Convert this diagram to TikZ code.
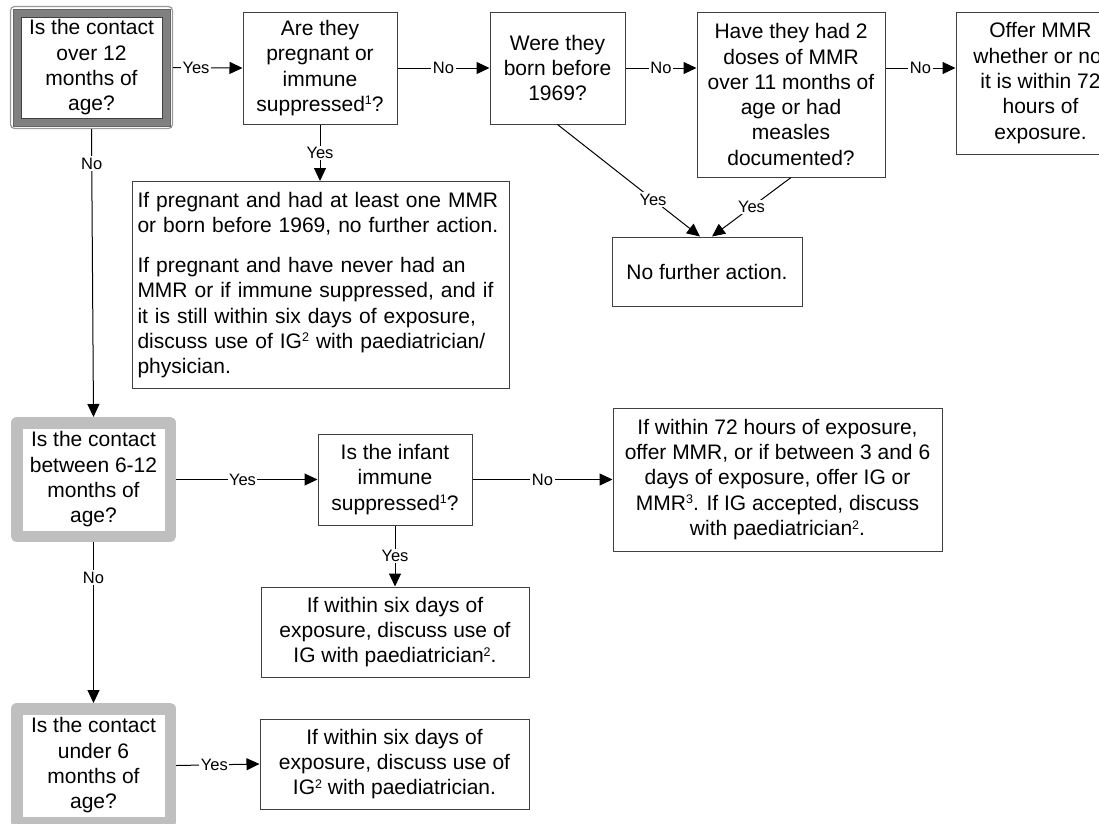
\documentclass[tikz,border=0pt]{standalone}
\usepackage{fontspec}
\setmainfont{Liberation Sans}
\usetikzlibrary{arrows.meta,calc}
\newcommand\mymainfont{\fontsize{21}{25.3}\selectfont}
\newcommand\mylblfont{\fontsize{16.5}{18}\selectfont}
\newcommand\mysups[1]{\raisebox{6.5pt}{\fontsize{12.5}{12.5}\selectfont #1}}
\begin{document}
\begin{tikzpicture}[x=1pt,y=-1pt,
  box/.style={draw=black!75, line width=1pt, fill=white, align=center, font=\mymainfont, inner sep=0pt},
  graybox/.style={draw=black!25, line width=11.5pt, line join=round, fill=white, align=center, font=\mymainfont, inner sep=0pt, minimum width=153.5pt, minimum height=113.5pt},
  lbl/.style={font=\mylblfont, fill=white, inner sep=1.5pt},
  arr/.style={line width=1pt, -{Triangle[length=13pt,width=12pt]}}]
\useasboundingbox (0,0) rectangle (1099,823);
\clip (0,0) rectangle (1099,823);
\fill[white] (0,0) rectangle (1099,823);

% Box A (double frame)
\node[draw=black!40, line width=1.2pt, rounded corners=4pt, minimum width=162pt, minimum height=122pt, inner sep=0pt] (A) at (91.5,67.5) {};
\node[fill=black!50, draw=black!60, line width=0.5pt, minimum width=157pt, minimum height=117pt, inner sep=0pt] (Aband) at (A.center) {};
\node[box, line width=0.5pt, minimum width=141pt, minimum height=101pt] (Atext) at (A.center) {Is the contact\\over 12\\months of\\age?};

% Top row
\node[box, minimum width=154pt, minimum height=112pt] (B) at (320,68) {Are they\\pregnant or\\immune\\suppressed\mysups{1}?};
\node[box, minimum width=135pt, minimum height=112pt] (C) at (557.5,68) {Were they\\born before\\1969?};
\node[box, minimum width=188pt, minimum height=165pt] (D) at (791,94.5) {Have they had 2\\doses of MMR\\over 11 months of\\age or had\\measles\\documented?};
\node[box, minimum width=169pt, minimum height=142pt] (E) at (1040.5,83) {Offer MMR\\whether or not\\it is within 72\\hours of\\exposure.};
\node[box, minimum width=190pt, minimum height=69pt] (F) at (707,271.5) {No further action.};
\node[box, align=left, text width=367pt, inner sep=5pt, minimum height=207pt, anchor=north west] (G) at (132,181) {If pregnant and had at least one MMR\\or born before 1969, no further action.\\[14.7pt]If pregnant and have never had an\\MMR or if immune suppressed, and if\\it is still within six days of exposure,\\discuss use of IG\mysups{2} with paediatrician/\\physician.};

% Middle row
\node[graybox] (H) at (93.5,479.5) {Is the contact\\between 6-12\\months of\\age?};
\node[box, minimum width=154pt, minimum height=91pt] (I) at (395,479.5) {Is the infant\\immune\\suppressed\mysups{1}?};
\node[box, minimum width=329pt, minimum height=143pt] (J) at (777.5,479.5) {If within 72 hours of exposure,\\offer MMR, or if between 3 and 6\\days of exposure, offer IG or\\MMR\mysups{3}. If IG accepted, discuss\\with paediatrician\mysups{2}.};
\node[box, minimum width=268pt, minimum height=90pt] (K) at (395,632) {If within six days of\\exposure, discuss use of\\IG with paediatrician\mysups{2}.};

% Bottom row
\node[graybox] (L) at (93.5,765.5) {Is the contact\\under 6\\months of\\age?};
\node[box, minimum width=269pt, minimum height=90pt] (M) at (394.5,764) {If within six days of\\exposure, discuss use of\\IG\mysups{2} with paediatrician.};

% Connectors
\draw[arr] (A.east) -- node[lbl, pos=0.33] {Yes} (B.west);
\draw[arr] (B.east) -- node[lbl] {No} (C.west);
\draw[arr] (C.east) -- node[lbl] {No} (C.east -| D.west);
\draw[arr] (D.east |- B.east) -- node[lbl] {No} (E.west |- B.east);
\draw[arr] (B.south) -- node[lbl] {Yes} (G.north -| B.south);
\draw[arr] (C.south) -- node[lbl, pos=0.67] {Yes} ($(F.north)+(-7,0)$);
\draw[arr] (D.south) -- node[lbl, pos=0.5] {Yes} ($(F.north)+(5,0)$);
\draw[arr] (A.south) -- node[lbl, pos=0.12] {No} (H.north);
\draw[arr] (H.east) -- node[lbl, pos=0.47] {Yes} (I.west);
\draw[arr] (I.east) -- node[lbl] {No} (I.east -| J.west);
\draw[arr] (I.south) -- node[lbl] {Yes} (I.south |- K.north);
\draw[arr] (H.south) -- node[lbl, pos=0.22] {No} (L.north);
\draw[arr] (L.east) -- node[lbl, pos=0.46] {Yes} (M.west);
\end{tikzpicture}
\end{document}
